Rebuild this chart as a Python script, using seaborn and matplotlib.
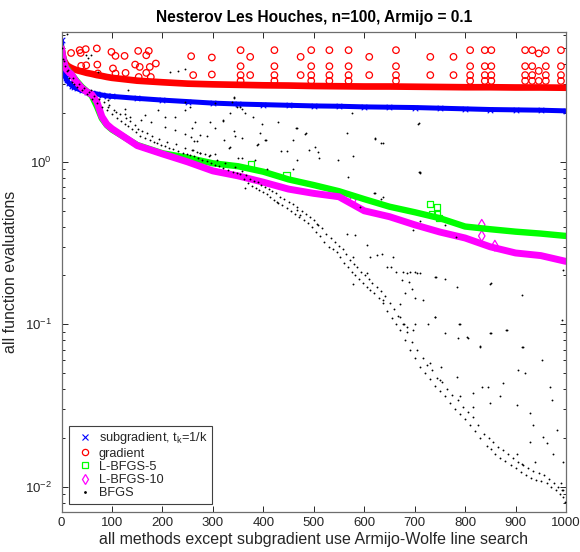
import matplotlib
matplotlib.use("Agg")
import matplotlib.pyplot as plt
import seaborn as sns
from matplotlib.lines import Line2D
from matplotlib.ticker import LogLocator

# ---------------- data ----------------
ITER = [0, 2, 4, 6, 8, 10, 15, 20, 25, 30, 40, 50, 60, 70, 80, 90, 100,
        150, 200, 250, 300, 350, 400, 450, 500, 550, 600, 650, 700, 750,
        800, 850, 900, 950, 1000]

SUBGRADIENT = [5.6, 4.1, 3.7, 3.45, 3.3, 3.2, 3.05, 2.95, 2.88, 2.83, 2.75, 2.69,
               2.65, 2.62, 2.58, 2.55, 2.53, 2.46, 2.40, 2.35, 2.30, 2.27, 2.25,
               2.23, 2.21, 2.20, 2.18, 2.17, 2.16, 2.14, 2.12, 2.10, 2.09, 2.08, 2.06]

GRADIENT = [5.0, 4.6, 4.3, 4.15, 4.05, 3.95, 3.85, 3.78, 3.72, 3.67, 3.6, 3.53,
            3.48, 3.42, 3.38, 3.33, 3.29, 3.16, 3.09, 3.03, 3.0, 2.98, 2.96,
            2.95, 2.93, 2.92, 2.91, 2.91, 2.90, 2.89, 2.88, 2.88, 2.87, 2.87, 2.86]

LBFGS5 = [5.0, 4.6, 4.3, 4.05, 3.9, 3.8, 3.6, 3.45, 3.3, 3.15, 2.9, 2.72,
          2.55, 2.2, 1.85, 1.68, 1.58, 1.27, 1.13, 1.06, 0.98, 0.94, 0.87,
          0.78, 0.72, 0.66, 0.59, 0.53, 0.49, 0.45, 0.40, 0.385, 0.372, 0.362, 0.35]

LBFGS10 = [5.0, 4.5, 4.2, 4.0, 3.8, 3.7, 3.55, 3.45, 3.25, 3.1, 2.85, 2.7,
           2.6, 2.35, 1.9, 1.70, 1.60, 1.26, 1.12, 1.0, 0.88, 0.82, 0.75,
           0.68, 0.64, 0.61, 0.50, 0.46, 0.41, 0.37, 0.34, 0.30, 0.275, 0.265, 0.244]

# extra line-search evaluations (iteration, f)
GRADIENT_EXTRA = [
    (19, 4.68), (36, 4.87), (38, 4.68), (48, 4.94), (70, 4.99), (99, 4.75), (107, 4.49),
    (125, 4.49), (152, 4.82), (168, 4.53), (173, 4.82), (187, 4.03), (146, 3.97), (155, 3.84),
    (175, 3.84), (168, 3.53), (177, 3.33), (153, 3.33), (127, 3.53), (107, 3.5), (102, 3.76),
    (71, 3.97), (49, 3.93), (39, 3.9), (72, 3.5), (257, 4.47), (261, 3.42), (298, 4.39), (298, 3.45),
    (355, 4.87), (355, 3.88), (355, 3.42), (355, 3.15), (374, 4.43), (374, 3.42),
    (422, 4.87), (422, 3.88), (422, 3.42), (422, 3.15), (474, 4.43), (474, 3.42),
    (495, 4.87), (495, 3.88), (495, 3.42), (495, 3.15), (531, 4.87), (531, 3.88), (531, 3.42), (531, 3.15),
    (569, 4.87), (569, 3.88), (569, 3.42), (569, 3.15), (610, 4.43), (610, 3.42),
    (663, 4.87), (663, 3.88), (663, 3.42), (663, 3.15), (731, 4.43), (731, 3.42), (777, 4.43), (777, 3.42),
    (810, 4.87), (810, 3.88), (810, 3.42), (810, 3.15), (839, 4.87), (839, 3.88), (839, 3.42), (839, 3.15),
    (852, 4.87), (852, 3.88), (852, 3.42), (852, 3.15), (919, 4.87), (919, 3.88), (919, 3.42), (919, 3.15),
    (933, 4.87), (933, 3.88), (933, 3.42), (933, 3.15), (946, 4.65), (946, 3.63), (946, 3.15),
    (960, 4.87), (960, 3.88), (960, 3.42), (960, 3.15), (990, 4.87), (990, 3.88), (990, 3.42), (990, 3.15),
]
LBFGS5_EXTRA = [(376, 0.97), (446, 0.83), (731, 0.55), (745, 0.53), (734, 0.48), (745, 0.477), (749, 0.45)]
LBFGS10_EXTRA = [(555, 0.62), (577, 0.58), (833, 0.41), (833, 0.35), (859, 0.305)]

BFGS_POINTS = [
    # accepted iterates / lower envelope
    (0, 5.0), (3, 4.3), (6, 3.9), (10, 3.6), (15, 3.3), (20, 3.1), (25, 3.0), (30, 2.9), (40, 2.75),
    (50, 2.6), (60, 2.45), (70, 2.3), (80, 2.18), (90, 2.08), (100, 1.96), (110, 1.85), (118, 1.78),
    (125, 1.72), (132, 1.66), (140, 1.6), (148, 1.52), (156, 1.45), (165, 1.40), (175, 1.36),
    (183, 1.33), (190, 1.30), (198, 1.27), (205, 1.25), (214, 1.22), (222, 1.20), (231, 1.17),
    (240, 1.14), (248, 1.12), (255, 1.10), (262, 1.08), (270, 1.06), (279, 1.03), (288, 1.01),
    (296, 0.98), (305, 0.96), (313, 0.94), (321, 0.92), (330, 0.89), (340, 0.87), (347, 0.85),
    (354, 0.84), (362, 0.78), (370, 0.74), (378, 0.71), (385, 0.69), (392, 0.67), (400, 0.65),
    (407, 0.63), (414, 0.61), (422, 0.58), (430, 0.56), (438, 0.54), (446, 0.52), (455, 0.50),
    (463, 0.48), (471, 0.46), (480, 0.44), (488, 0.42), (496, 0.40), (505, 0.37), (513, 0.35),
    (521, 0.32), (530, 0.30), (538, 0.29), (546, 0.28), (553, 0.26), (560, 0.24), (567, 0.225),
    (575, 0.21), (582, 0.20), (590, 0.19), (597, 0.18), (605, 0.17), (612, 0.162), (620, 0.155),
    (629, 0.145), (638, 0.135), (646, 0.12), (655, 0.11), (663, 0.10), (671, 0.092), (680, 0.08),
    (690, 0.07), (700, 0.062), (711, 0.055), (720, 0.05), (730, 0.046), (740, 0.042), (750, 0.039),
    (760, 0.036), (770, 0.033), (780, 0.030), (790, 0.028), (800, 0.026), (810, 0.024), (820, 0.022),
    (830, 0.020), (843, 0.0178), (851, 0.017), (860, 0.016), (870, 0.015), (880, 0.0145),
    (890, 0.0137), (900, 0.013), (910, 0.0124), (920, 0.0118), (930, 0.0114), (940, 0.011),
    (951, 0.0108), (962, 0.0105), (971, 0.010), (980, 0.0095), (988, 0.009), (995, 0.0087), (999, 0.0081),
    # second row of the dense band
    (5, 4.2), (12, 3.7), (22, 3.3), (35, 3.0), (45, 2.85), (55, 2.7), (65, 2.55), (75, 2.45),
    (85, 2.35), (95, 2.25), (105, 2.1), (115, 1.98), (128, 1.85), (136, 1.78), (145, 1.68),
    (152, 1.6), (160, 1.55), (170, 1.5), (180, 1.45), (194, 1.38), (210, 1.33), (226, 1.28),
    (244, 1.22), (258, 1.18), (274, 1.13), (292, 1.08), (309, 1.03), (325, 0.99), (343, 0.93),
    (358, 0.88), (366, 0.83), (374, 0.79), (382, 0.76), (389, 0.75), (396, 0.72), (404, 0.70),
    (411, 0.68), (418, 0.66), (426, 0.64), (434, 0.61), (442, 0.59), (450, 0.57), (459, 0.55),
    (467, 0.53), (476, 0.50), (484, 0.48), (492, 0.46), (500, 0.44), (509, 0.41), (517, 0.39),
    (525, 0.36), (534, 0.34), (542, 0.32), (550, 0.305), (557, 0.29), (564, 0.27), (571, 0.25),
    (579, 0.235), (586, 0.225), (594, 0.21), (601, 0.2), (609, 0.19), (616, 0.18), (625, 0.17),
    (633, 0.16), (642, 0.15), (651, 0.135), (659, 0.125), (667, 0.112), (676, 0.10), (685, 0.09),
    (695, 0.078), (705, 0.07), (716, 0.062), (725, 0.056), (735, 0.052), (745, 0.047), (755, 0.044),
    (765, 0.04), (775, 0.037), (785, 0.034), (795, 0.031), (805, 0.029), (815, 0.027), (825, 0.024),
    (837, 0.021), (847, 0.020), (856, 0.0188), (865, 0.0176), (875, 0.0168), (885, 0.016),
    (895, 0.015), (905, 0.0142), (915, 0.0136), (925, 0.013), (935, 0.0126), (946, 0.0122),
    (957, 0.0118), (966, 0.0112), (976, 0.0106), (985, 0.010), (993, 0.0095),
    # trial points of the line search
    (11, 6.1), (49, 4.53), (59, 4.53), (53, 4.33), (73, 3.58), (216, 3.55), (230, 3.65), (245, 3.75),
    (132, 2.76), (245, 2.34), (337, 2.34), (341, 2.49), (59, 2.76), (92, 2.40), (125, 2.13),
    (165, 1.94), (205, 1.89), (92, 2.18), (109, 2.03), (125, 1.98), (135, 1.89), (158, 1.80),
    (178, 1.76), (205, 1.64), (224, 1.57), (244, 1.49), (257, 1.43), (224, 1.89), (244, 2.08),
    (254, 2.18), (191, 2.08), (341, 2.51), (304, 2.31), (347, 2.18), (357, 2.13), (334, 2.0),
    (364, 2.0), (265, 1.76), (294, 1.76), (320, 1.79), (380, 1.89), (397, 1.71), (258, 1.61),
    (275, 1.46), (288, 1.44), (304, 1.61), (342, 1.55), (357, 1.41), (393, 1.51), (405, 1.36),
    (430, 1.76), (466, 1.61), (483, 1.48), (502, 1.24), (491, 1.18), (446, 1.17), (436, 1.17),
    (458, 1.36), (387, 1.27), (334, 1.23), (323, 1.37), (263, 1.35), (268, 1.35), (261, 1.18),
    (268, 1.15), (275, 1.13), (284, 1.12), (294, 1.10), (304, 1.12), (333, 1.21), (350, 1.06),
    (358, 1.06), (384, 1.02), (466, 1.03), (509, 1.15), (549, 1.02), (408, 0.91), (458, 0.91),
    (321, 1.81), (354, 2.18), (344, 1.44), (403, 1.36), (390, 1.29), (465, 1.61), (511, 1.06),
    (577, 1.08), (566, 1.51), (621, 1.41), (637, 1.30), (711, 0.87), (568, 0.81), (621, 0.64),
    (638, 0.61), (592, 0.53), (364, 0.69), (427, 0.567), (466, 0.504), (506, 0.417), (473, 0.47),
    (565, 0.362), (605, 0.307), (582, 0.354), (625, 0.267), (645, 0.226), (664, 0.21), (684, 0.206),
    (704, 0.206), (658, 0.26), (674, 0.187), (694, 0.166), (638, 0.141), (671, 0.134), (605, 0.206),
    (578, 0.178), (681, 0.155), (697, 0.092), (684, 0.097), (671, 0.111), (578, 0.26), (611, 0.26),
    (635, 0.27), (654, 0.226), (711, 0.206), (740, 0.196), (760, 0.19), (783, 0.17), (849, 0.178),
    (912, 0.151), (701, 0.145), (717, 0.141), (740, 0.111), (790, 0.101), (760, 0.088), (803, 0.084),
    (830, 0.074), (849, 0.088), (882, 0.092), (912, 0.073), (952, 0.060), (905, 0.052), (918, 0.050),
    (876, 0.0435), (846, 0.0413), (833, 0.0413), (816, 0.0376), (790, 0.036), (783, 0.0474),
    (753, 0.055), (730, 0.0575), (750, 0.0455), (816, 0.031), (849, 0.033), (869, 0.036),
    (902, 0.0318), (929, 0.0283), (935, 0.024), (968, 0.041), (972, 0.034), (982, 0.0223),
    (995, 0.0142), (955, 0.0204), (962, 0.0186), (929, 0.019), (902, 0.016), (939, 0.0142),
    (975, 0.016), (912, 0.0139), (991, 0.0105), (995, 0.0095), (709, 1.74), (709, 0.87), (711, 0.43),
    (697, 0.38), (781, 0.346), (760, 0.41), (677, 0.21), (690, 0.21), (700, 0.21), (742, 0.196),
    (688, 0.183), (851, 0.18), (995, 0.216), (993, 0.106), (741, 0.111), (788, 0.101), (678, 0.1),
    (700, 0.1), (727, 0.1), (883, 0.092), (851, 0.088), (806, 0.083), (785, 0.083), (829, 0.073),
    (915, 0.073), (575, 1.99), (707, 1.72), (484, 1.50), (621, 1.39), (634, 1.30), (710, 0.86),
    (620, 0.64), (634, 0.59),
]

X_TICKS = [0, 100, 200, 300, 400, 500, 600, 700, 800, 900, 1000]
LABELS = ["subgradient, t$_\\mathrm{k}$=1/k", "gradient", "L-BFGS-5", "L-BFGS-10", "BFGS"]
TITLE = "Nesterov Les Houches, n=100, Armijo = 0.1"
XLABEL = "all methods except subgradient use Armijo-Wolfe line search"
YLABEL = "all function evaluations"

# ---------------- style ----------------
sns.set_theme(style="ticks")
plt.rcParams["font.family"] = ["Liberation Sans", "DejaVu Sans"]
plt.rcParams["mathtext.fontset"] = "custom"
plt.rcParams["mathtext.rm"] = "Liberation Sans"
plt.rcParams["mathtext.it"] = "Liberation Sans:italic"
TXT = "#262626"
SPINE = "#6e6e6e"

fig = plt.figure(figsize=(5.8, 5.52), dpi=100)
ax = fig.add_axes([61.5 / 580, 1 - 512 / 552, 504.5 / 580, 480 / 552])
ax.set_yscale("log")

BLUE, RED, GREEN, MAG = "#0000ff", "#ff0000", "#00ff00", "#ff00ff"

# bands (many overlapping markers in the original -> thick lines + markers)
sns.lineplot(x=ITER, y=SUBGRADIENT, color=BLUE, linewidth=3.6, estimator=None, ax=ax, legend=False)
sns.scatterplot(x=ITER, y=SUBGRADIENT, marker="x", color=BLUE, s=16, linewidth=0.8, ax=ax, legend=False)

sns.lineplot(x=ITER, y=GRADIENT, color=RED, linewidth=4.8, estimator=None, ax=ax, legend=False)
sns.scatterplot(x=[p[0] for p in GRADIENT_EXTRA], y=[p[1] for p in GRADIENT_EXTRA], marker="o", s=22,
                facecolor="none", edgecolor=RED, linewidth=0.9, ax=ax, legend=False)

sns.lineplot(x=ITER, y=LBFGS5, color=GREEN, linewidth=4.6, estimator=None, ax=ax, legend=False)
sns.scatterplot(x=[p[0] for p in LBFGS5_EXTRA], y=[p[1] for p in LBFGS5_EXTRA], marker="s", s=20,
                facecolor="none", edgecolor=GREEN, linewidth=0.9, ax=ax, legend=False)

sns.lineplot(x=ITER, y=LBFGS10, color=MAG, linewidth=5.0, estimator=None, ax=ax, legend=False)
sns.scatterplot(x=[p[0] for p in LBFGS10_EXTRA], y=[p[1] for p in LBFGS10_EXTRA], marker="d", s=30,
                facecolor="none", edgecolor=MAG, linewidth=0.9, ax=ax, legend=False)

sns.scatterplot(x=[p[0] for p in BFGS_POINTS], y=[p[1] for p in BFGS_POINTS], marker="o", s=1.8,
                color="black", linewidth=0, ax=ax, legend=False, zorder=5)

# axes
ax.set_xlim(0, 1000)
ax.set_ylim(0.007, 6.3)
ax.set_xticks(X_TICKS)
ax.set_xticklabels([str(t) for t in X_TICKS])
ax.yaxis.set_major_locator(LogLocator(base=10, numticks=10))
ax.yaxis.set_minor_locator(LogLocator(base=10, subs=range(2, 10), numticks=50))
ax.tick_params(axis="both", which="both", direction="in", top=True, right=True,
               colors=TXT, labelcolor=TXT, labelsize=9.5, width=0.7)
ax.tick_params(axis="both", which="major", length=4)
ax.tick_params(axis="y", which="minor", length=2.2)
ax.tick_params(axis="x", which="major", pad=3.5)
ax.tick_params(axis="y", which="major", pad=7)
for s in ax.spines.values():
    s.set_color(SPINE)
    s.set_linewidth(0.9)

ax.set_title(TITLE, fontsize=11.2, fontweight="bold", color="black", pad=7)
ax.set_xlabel(XLABEL, fontsize=11.5, color=TXT, labelpad=2)
ax.set_ylabel(YLABEL, fontsize=11.5, color=TXT, labelpad=5)

handles = [
    Line2D([], [], ls="none", marker="x", color=BLUE, ms=4, mew=0.8),
    Line2D([], [], ls="none", marker="o", mfc="none", mec=RED, ms=4.5, mew=0.9),
    Line2D([], [], ls="none", marker="s", mfc="none", mec=GREEN, ms=4.2, mew=0.9),
    Line2D([], [], ls="none", marker="d", mfc="none", mec=MAG, ms=5.5, mew=0.9),
    Line2D([], [], ls="none", marker=".", color="black", ms=2),
]
leg = ax.legend(handles, LABELS, loc="lower left", bbox_to_anchor=(0.014, 0.017), borderaxespad=0,
                fontsize=9.2, frameon=True, fancybox=False, framealpha=1, edgecolor="#404040",
                borderpad=0.35, handlelength=1.8, handletextpad=0.2, labelspacing=0.1)
leg.get_frame().set_linewidth(0.8)
leg.set_zorder(10)
for t in leg.get_texts():
    t.set_color(TXT)

fig.savefig("out.png", dpi=100)
